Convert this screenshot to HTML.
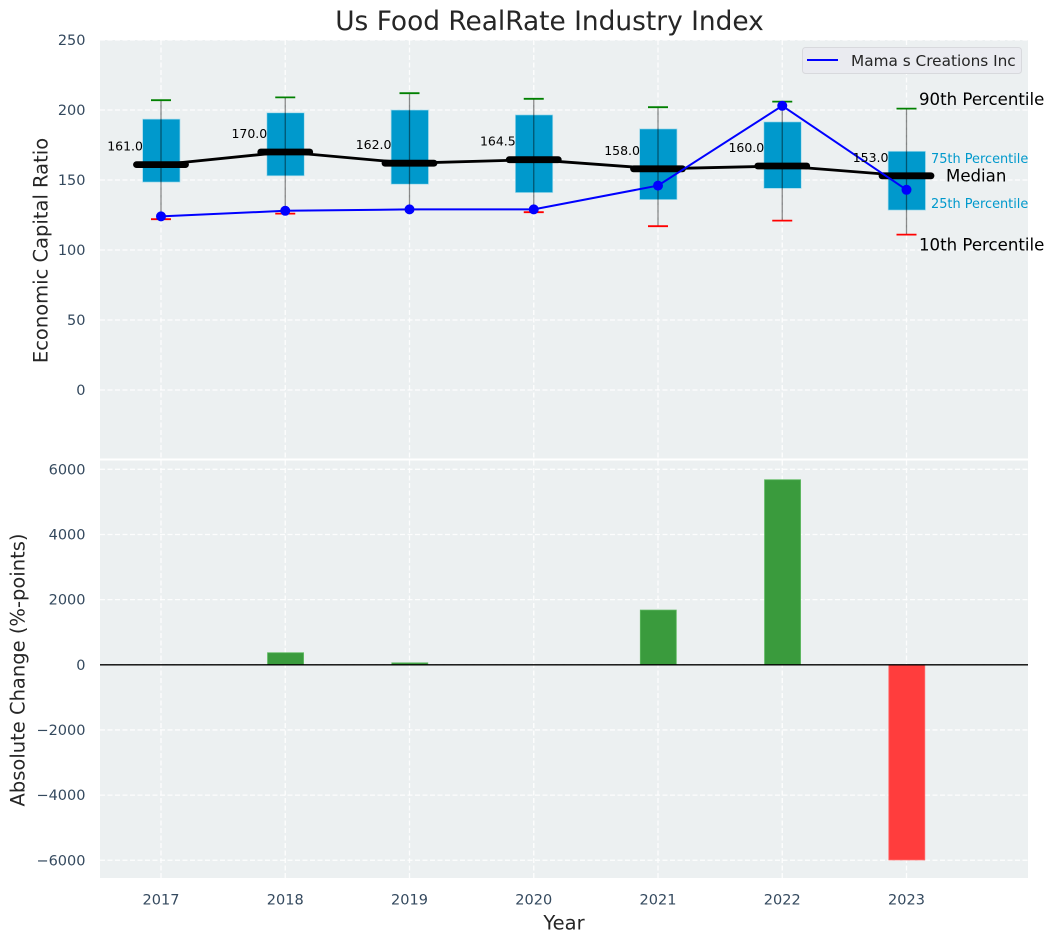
<!DOCTYPE html>
<html lang="en">
<head>
<meta charset="utf-8">
<title>Us Food RealRate Industry Index</title>
<style>
html,body{margin:0;padding:0;background:#fff;width:1054px;height:942px;overflow:hidden}
svg{display:block;font-family:"DejaVu Sans","Liberation Sans",sans-serif}
</style>
</head>
<body>
<svg id="chart" width="1054" height="942" viewBox="0 0 1054 942" xmlns="http://www.w3.org/2000/svg">
<rect x="0" y="0" width="1054" height="942" fill="#ffffff"/>
<rect x="100" y="40" width="928" height="418.5" fill="#ecf0f1"/>
<rect x="100" y="460.5" width="928" height="417.5" fill="#ecf0f1"/>
<g id="grid"></g>
<g id="bars"></g>
<g id="boxes"></g>
<g id="labels"></g>
<text x="549.5" y="30" text-anchor="middle" font-size="26.4" fill="#262626">Us Food RealRate Industry Index</text>
<text transform="translate(47.5,250.5) rotate(-90)" text-anchor="middle" font-size="19.5" fill="#262626">Economic Capital Ratio</text>
<text transform="translate(24.5,670) rotate(-90)" text-anchor="middle" font-size="19.5" fill="#262626">Absolute Change (%-points)</text>
<text x="564" y="929.5" text-anchor="middle" font-size="19.5" fill="#262626">Year</text>
<g>
<rect x="802.5" y="47.5" width="219" height="26" rx="3" fill="#eaebf0" stroke="#d8d9dd" stroke-width="1"/>
<line x1="807" y1="60" x2="838" y2="60" stroke="#0000ff" stroke-width="2"/>
<text x="851" y="66" font-size="15.3" fill="#262626">Mama s Creations Inc</text>
</g>
</svg>
<script>
const years = [2017, 2018, 2019, 2020, 2021, 2022, 2023];
const p90 = [207, 209, 212, 208, 202, 206, 201];
const p75 = [193.5, 198, 200, 196.5, 186.5, 191.5, 170.5];
const median = [161, 170, 162, 164.5, 158, 160, 153];
const p25 = [148.5, 153, 147, 141, 136, 144, 128.5];
const p10 = [122, 126, 129, 127, 117, 121, 111];
const company = [124, 128, 129, 129, 146, 203, 143];
const change = [0, 370, 60, 0, 1680, 5680, -5990];
const topTicks = [0, 50, 100, 150, 200, 250];
const bottomTicks = [-6000, -4000, -2000, 0, 2000, 4000, 6000];

const NS = 'http://www.w3.org/2000/svg';
const xScale = v => 161 + (v - 2017) * 124.25;
const yTop = v => 390 - v * 1.4;
const yBottom = v => 664.8 - v * 0.03258;
function make(tag, attrs, parent, txt) {
  const el = document.createElementNS(NS, tag);
  for (const k in attrs) el.setAttribute(k, attrs[k]);
  if (txt !== undefined) el.textContent = txt;
  parent.appendChild(el);
  return el;
}
const gGrid = document.getElementById('grid');
const gBars = document.getElementById('bars');
const gBoxes = document.getElementById('boxes');
const gLabels = document.getElementById('labels');
const gridStyle = {stroke: '#ffffff', 'stroke-width': 1.3, 'stroke-dasharray': '5 2.5', opacity: 0.9};
const tickColor = '#34495e';
const tickSize = 14.5;

topTicks.forEach(t => {
  const line = make('line', Object.assign({x1: 100, x2: 1028, y1: yTop(t), y2: yTop(t)}, gridStyle), gGrid);
  
  
  const label = make('text', {x: 85.5, y: yTop(t) + 5, 'text-anchor': 'end', 'font-size': tickSize, fill: tickColor}, gLabels, String(t));
  
  
});
bottomTicks.forEach(t => {
  const line = make('line', Object.assign({x1: 100, x2: 1028, y1: yBottom(t), y2: yBottom(t)}, gridStyle), gGrid);
  
  
  const label = make('text', {x: 85.5, y: yBottom(t) + 5, 'text-anchor': 'end', 'font-size': tickSize, fill: tickColor}, gLabels, String(t).replace('-', '\u2212'));
  
  
});
years.forEach(y => {
  const a = make('line', Object.assign({x1: xScale(y), x2: xScale(y), y1: 40, y2: 458.5}, gridStyle), gGrid);
  
  
  const b = make('line', Object.assign({x1: xScale(y), x2: xScale(y), y1: 460.5, y2: 878}, gridStyle), gGrid);
  
  
  const label = make('text', {x: xScale(y), y: 904.5, 'text-anchor': 'middle', 'font-size': tickSize, fill: tickColor}, gLabels, String(y));
  
  
});

const barHalf = 18;
years.forEach((y, i) => {
  const v = change[i];
  if (v === 0) return;
  const top = Math.min(yBottom(v), yBottom(0));
  const h = Math.abs(yBottom(v) - yBottom(0));
  const bar = make('rect', {x: xScale(y) - barHalf + 0.3, y: top, width: barHalf * 2, height: h,
    fill: v > 0 ? '#3a9b3d' : '#ff3d3d', stroke: v > 0 ? '#5cb85f' : '#ff6a6a', 'stroke-width': 0.8}, gBars);
  
  
});
const zero = make('line', {x1: 100, x2: 1028, y1: yBottom(0), y2: yBottom(0), stroke: '#000', 'stroke-width': 1.3}, gBars);



const boxHalf = 18.7;
const capHalf = 10;
years.forEach((y, i) => {
  const x = xScale(y);
  const box = make('rect', {x: x - boxHalf + 0.3, y: yTop(p75[i]), width: boxHalf * 2, height: yTop(p25[i]) - yTop(p75[i]),
    fill: '#0099cc', stroke: '#a8dcec', 'stroke-width': 0.7}, gBoxes);
  
  
});
const medianLine = make('polyline', {points: years.map((y, i) => xScale(y) + ',' + yTop(median[i])).join(' '),
  fill: 'none', stroke: '#000', 'stroke-width': 2.8}, gBoxes);


years.forEach((y, i) => {
  const x = xScale(y);
  const my = yTop(median[i]);
  const seg = make('line', {x1: x - 24.5, x2: x + 24.5, y1: my, y2: my, stroke: '#000', 'stroke-width': 6.8, 'stroke-linecap': 'round'}, gBoxes);
  
  
  const wh = make('line', {x1: x, x2: x, y1: yTop(p90[i]), y2: yTop(p10[i]), stroke: '#000', 'stroke-opacity': 0.45, 'stroke-width': 1.3}, gBoxes);
  
  
  const capHi = make('line', {x1: x - capHalf, x2: x + capHalf, y1: yTop(p90[i]), y2: yTop(p90[i]), stroke: '#008000', 'stroke-width': 1.8}, gBoxes);
  
  
  const capLo = make('line', {x1: x - capHalf, x2: x + capHalf, y1: yTop(p10[i]), y2: yTop(p10[i]), stroke: '#ff0000', 'stroke-width': 1.8}, gBoxes);
  
  
  const val = make('text', {x: x - 18, y: my - 14, 'text-anchor': 'end', 'font-size': 12.5, fill: '#000'}, gLabels, median[i].toFixed(1));
  
  
});
const compLine = make('polyline', {points: years.map((y, i) => xScale(y) + ',' + yTop(company[i])).join(' '),
  fill: 'none', stroke: '#0000ff', 'stroke-width': 2}, gBoxes);


years.forEach((y, i) => {
  const pt = make('circle', {cx: xScale(y), cy: yTop(company[i]), r: 5, fill: '#0000ff'}, gBoxes);
  
  
});

const last = years.length - 1;
const lx = xScale(years[last]);
const a90 = make('text', {x: lx + 12.5, y: yTop(p90[last]) - 3.5, 'font-size': 16.6, fill: '#000'}, gLabels, '90th Percentile');


const a75 = make('text', {x: lx + 24.5, y: yTop(p75[last]) + 11.5, 'font-size': 12.9, fill: '#0099cc'}, gLabels, '75th Percentile');


const aMed = make('text', {x: lx + 39.5, y: yTop(median[last]) + 5.5, 'font-size': 16.6, fill: '#000'}, gLabels, 'Median');


const a25 = make('text', {x: lx + 24.5, y: yTop(p25[last]) - 2, 'font-size': 12.9, fill: '#0099cc'}, gLabels, '25th Percentile');


const a10 = make('text', {x: lx + 12.5, y: yTop(p10[last]) + 16, 'font-size': 16.6, fill: '#000'}, gLabels, '10th Percentile');


</script>
</body>
</html>
